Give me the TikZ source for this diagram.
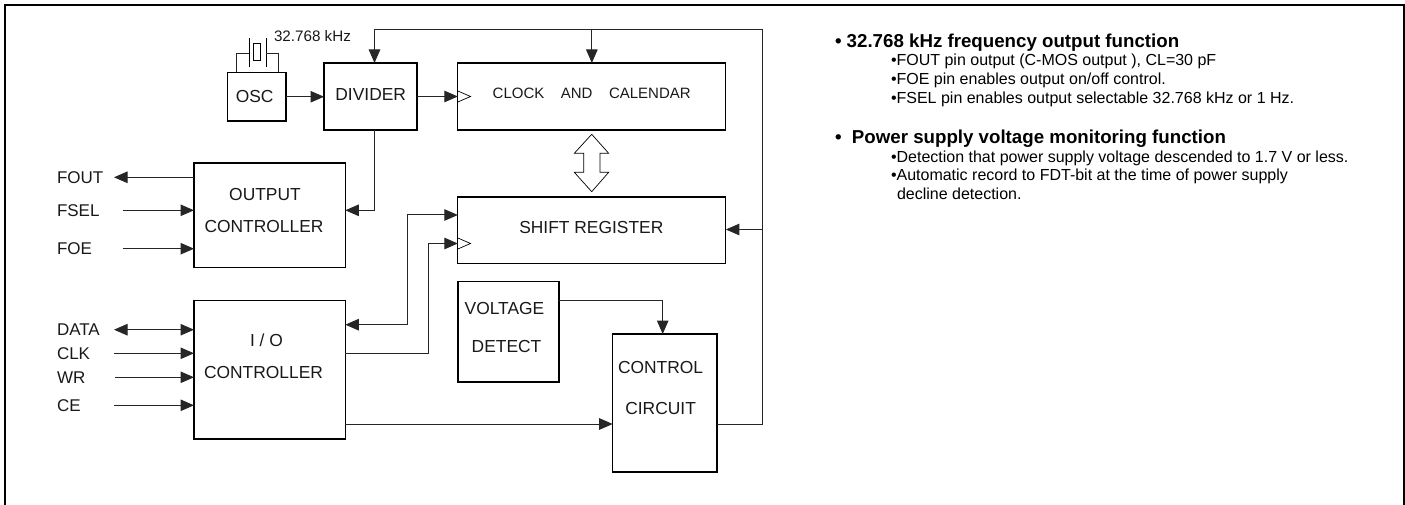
\documentclass[tikz,border=0pt]{standalone}
\usepackage{fontspec}
\setmainfont{Liberation Sans}
\usetikzlibrary{arrows.meta,calc}
\newcommand{\blockfont}{\fontsize{17.4}{32}\selectfont}
\tikzset{
  box/.style={draw=black,line width=1.1pt,outer sep=0pt,inner sep=0pt},
  lab/.style={inner sep=0pt,outer sep=0pt,font=\blockfont,text=black!90,align=center},
  pin/.style={inner sep=0pt,outer sep=0pt,font=\fontsize{17}{20}\selectfont,anchor=west,text=black!90},
  wire/.style={draw=black!85,line width=1pt},
  arr/.style={wire,-{Triangle[length=13.5pt,width=11.5pt]}},
  darr/.style={wire,{Triangle[length=13.5pt,width=11.5pt]}-{Triangle[length=13.5pt,width=11.5pt]}},
  thin shape/.style={draw=black,line width=.7pt},
  head/.style={inner sep=0pt,outer sep=0pt,anchor=base west,font=\bfseries\fontsize{18.7}{22}\selectfont},
  body/.style={inner sep=0pt,outer sep=0pt,anchor=base west,font=\fontsize{16}{20}\selectfont},
}
\begin{document}
\begin{tikzpicture}[x=1pt,y=-1pt]
\useasboundingbox (0,0) rectangle (1405,505);
% frame
\draw[line width=2.4pt,black] (5,505) -- (5,5) -- (1403.8,5) -- (1403.8,505);
% blocks
\node[box,minimum width=58.5pt,minimum height=48.5pt] (osc) at (256.75,96.75) {};
\node[box,minimum width=93pt,minimum height=67pt] (div) at (370.5,96.5) {};
\node[box,minimum width=268pt,minimum height=67pt] (clk) at (591.85,96.5) {};
\node[box,minimum width=268pt,minimum height=66.5pt] (sr) at (591.85,230.25) {};
\node[box,minimum width=151.3pt,minimum height=104.7pt] (oc) at (269.65,215.35) {};
\node[box,minimum width=151.3pt,minimum height=138.3pt] (io) at (269.65,369.85) {};
\node[box,minimum width=101pt,minimum height=100.3pt] (vd) at (508.5,331.85) {};
\node[box,minimum width=104.3pt,minimum height=138pt] (cc) at (664.85,403) {};
% block texts
\node[lab] (tosc) at (254.7,96.7) {OSC};
\node[lab] (tdiv) at (370.7,95) {DIVIDER};
\node[lab,font=\fontsize{15}{18}\selectfont] (tclk) at (591.7,93.7) {CLOCK\hspace{16.5pt}AND\hspace{16.5pt}CALENDAR};
\node[lab] (tsr) at (591.3,228) {SHIFT REGISTER};
\node[lab] (toc) at (264,211) {\hspace*{2pt}OUTPUT\\CONTROLLER};
\node[lab] (tio) at (263.5,356.5) {\hspace*{6pt}I / O\\CONTROLLER};
\node[lab,font=\fontsize{17.4}{38}\selectfont] (tvd) at (504.5,327.7) {VOLTAGE\\\hspace*{4pt}DETECT};
\node[lab,font=\fontsize{17.4}{41}\selectfont] (tcc) at (660.6,388.2) {CONTROL\\CIRCUIT};
\node[pin,font=\fontsize{15.2}{18}\selectfont] (xtal) at (274,36.5) {32.768 kHz};
% pin labels
\node[pin] (fout) at (57,178) {FOUT};
\node[pin] (fsel) at (57,211) {FSEL};
\node[pin] (foe) at (57,249) {FOE};
\node[pin] (data) at (57,330) {DATA};
\node[pin] (clkp) at (57,354) {CLK};
\node[pin] (wr) at (57,377.5) {WR};
\node[pin] (ce) at (57,406) {CE};
% free ends and bends
\coordinate (foutE) at (114,177.3);
\coordinate (fselE) at (122.7,210.3);
\coordinate (foeE) at (122.7,248.7);
\coordinate (dataE) at (114,329.7);
\coordinate (clkE) at (114,353.3);
\coordinate (wrE) at (115,377.3);
\coordinate (ceE) at (114,405.3);
\coordinate (loopTR) at (762.7,29.5);
\coordinate (loopBR) at (762.7,424);
\coordinate (loopTL) at (div.north |- loopTR);
\coordinate (loopTC) at (clk.north |- loopTR);
\coordinate (loopSR) at (762.7,229.5);
\coordinate (divOc) at (374.5,210.3);
\coordinate (divS) at (374.5,130);
\coordinate (divN) at (374.5,63);
\coordinate (b1a) at (407.3,215);
\coordinate (b1b) at (407.3,324.7);
\coordinate (b2a) at (428.7,243.5);
\coordinate (b2b) at (428.7,353.3);
\coordinate (vdB) at (662.7,300.7);
% connectors
\draw[arr] (osc.east) -- (osc.east -| div.west);
\draw[arr] (div.east) -- (div.east -| clk.west);
\draw[arr] (loopBR -| cc.east) -- (loopBR) -- (loopTR) -- (loopTR -| divN) -- (divN);
\draw[arr] (loopTC) -- (clk.north);
\draw[arr] (loopSR) -- (loopSR -| sr.east);
\draw[arr] (divS) -- (divOc) -- (divOc -| oc.east);
\draw[arr] (foutE -| oc.west) -- (foutE);
\draw[arr] (fselE) -- (fselE -| oc.west);
\draw[arr] (foeE) -- (foeE -| oc.west);
\draw[darr] (dataE) -- (dataE -| io.west);
\draw[arr] (clkE) -- (clkE -| io.west);
\draw[arr] (wrE) -- (wrE -| io.west);
\draw[arr] (ceE) -- (ceE -| io.west);
\draw[darr] (b1a -| sr.west) -- (b1a) -- (b1b) -- (b1b -| io.east);
\draw[arr] (b2b -| io.east) -- (b2b) -- (b2a) -- (b2a -| sr.west);
\draw[arr] (loopBR -| io.east) -- (loopBR -| cc.west);
\draw[arr] (vdB -| vd.east) -- (vdB) -- (vdB |- cc.north);
% clock inputs
\draw[thin shape] (b2a -| sr.west) ++(0,-5.5) -- ++(12.7,5.5) -- ++(-12.7,5.5);
\draw[thin shape] (clk.west) ++(0,-5.5) -- ++(12.7,5.5) -- ++(-12.7,5.5);
% double arrow
\draw[thin shape,fill=white] (591.7,134.3) -- (608.7,153.3) -- (600,153.3) -- (600,172.3) -- (608.7,172.3) -- (591.7,191.7) -- (574.3,172.3) -- (583.7,172.3) -- (583.7,153.3) -- (574.3,153.3) -- cycle;
% crystal
\draw[thin shape] (249,38.3) -- (249,66.7);
\draw[thin shape] (266.3,38.3) -- (266.3,66.7);
\draw[line width=1pt] (253.3,44) rectangle (260.7,61);
\draw[wire,line width=.8pt] (249,53.3) -- (236,53.3) -- (236,72.5);
\draw[wire,line width=.8pt] (266.3,53.3) -- (278,53.3) -- (278,72.5);
% function notes
\node[head] (h1) at (835,47.3) {•\ 32.768 kHz frequency output function};
\node[body] (l1) at (891,66) {•FOUT pin output (C-MOS output ), CL=30 pF};
\node[body] (l2) at (891,84.3) {•FOE pin enables output on/off control.};
\node[body] (l3) at (891,103.3) {•FSEL pin enables output selectable 32.768 kHz or 1 Hz.};
\node[head] (h2) at (835,143.3) {•\ \ Power supply voltage monitoring function};
\node[body] (l4) at (891,162.7) {•Detection that power supply voltage descended to 1.7 V or less.};
\node[body] (l5) at (891,181) {•Automatic record to FDT-bit at the time of power supply};
\node[body] (l6) at (897,199.7) {decline detection.};
\end{tikzpicture}
\end{document}
